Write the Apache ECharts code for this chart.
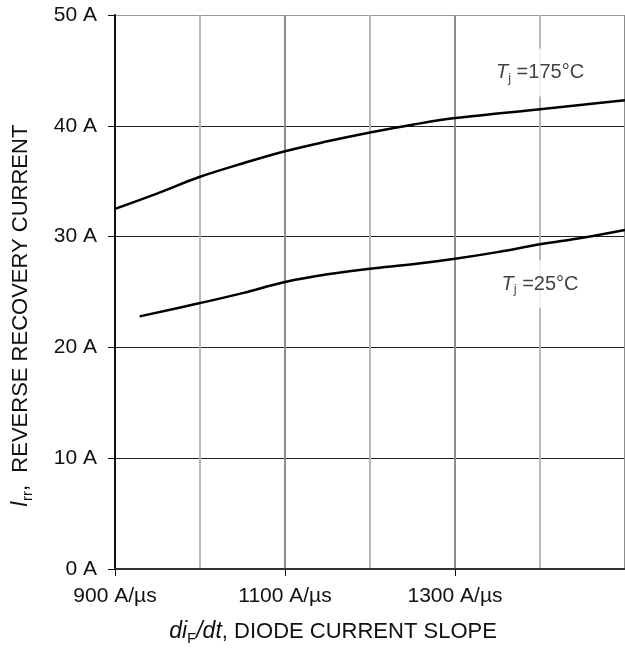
<!DOCTYPE html>
<html>
<head>
<meta charset="utf-8">
<script src="https://cdn.jsdelivr.net/npm/echarts@6/dist/echarts.min.js"></script>
<style>
html,body{margin:0;padding:0;background:#fff;}
#chart{width:625px;height:648px;}
</style>
</head>
<body>
<div id="chart"></div>
<script>
// Data
const hotX = [900, 950, 1000, 1050, 1100, 1150, 1200, 1250, 1300, 1350, 1400, 1450, 1500];
const hotY = [32.5, 33.9, 35.4, 36.6, 37.7, 38.6, 39.4, 40.1, 40.7, 41.1, 41.5, 41.9, 42.3];
const coldX = [929, 1000, 1050, 1100, 1150, 1200, 1250, 1300, 1350, 1400, 1450, 1500];
const coldY = [22.8, 24.0, 24.9, 25.9, 26.6, 27.1, 27.5, 28.0, 28.6, 29.3, 29.9, 30.6];
const xLabelValues = [900, 1100, 1300];
const hotLabel = {x: 1400, y: 44.8, text: '=175°C'};
const coldLabel = {x: 1400, y: 25.7, text: '=25°C'};

const FONT = '"Liberation Sans", Arial, Helvetica, sans-serif';
const pair = (xs, ys) => xs.map((x, i) => [x, ys[i]]);

const chart = echarts.init(document.getElementById('chart'), null, {renderer: 'canvas'});

const labelRich = {
  it: {fontFamily: FONT, fontSize: 20, fontStyle: 'italic', color: '#111', lineHeight: 24},
  sub: {fontFamily: FONT, fontSize: 13, color: '#111', lineHeight: 13, verticalAlign: 'bottom'},
  n: {fontFamily: FONT, fontSize: 20, color: '#111', lineHeight: 24}
};

function tempLabel(lbl) {
  return {
    type: 'scatter',
    xAxisIndex: 0,
    data: [[lbl.x, lbl.y]],
    symbolSize: 0,
    silent: true,
    z: 5,
    label: {
      show: true,
      position: 'inside',
      formatter: '{it|T}{sub|j}{n| ' + lbl.text + '}',
      rich: labelRich,
      backgroundColor: '#fff',
      padding: [12, 6, 12, 6]
    }
  };
}

const nameRich = {
  i: {fontFamily: FONT, fontSize: 23, fontStyle: 'italic', color: '#111', lineHeight: 28},
  sub: {fontFamily: FONT, fontSize: 15, color: '#111', lineHeight: 15, verticalAlign: 'bottom'},
  n: {fontFamily: FONT, fontSize: 22, color: '#111', lineHeight: 28}
};

chart.setOption({
  animation: false,
  backgroundColor: '#fff',
  grid: {left: 115, right: 0, top: 15, bottom: 79, containLabel: false, outerBoundsMode: 'none'},
  xAxis: [
    {
      type: 'value',
      position: 'bottom',
      min: 900, max: 1500, interval: 100,
      axisLine: {show: true, onZero: false, lineStyle: {color: '#333', width: 2}},
      axisTick: {show: false},
      axisLabel: {show: false},
      splitLine: {show: true, lineStyle: {color: ['#8c8c8c', '#b8b8b8'], width: 2}}
    },
    {
      type: 'value',
      position: 'bottom',
      offset: 0,
      min: 900, max: 1500, interval: 200,
      name: '{i|di}{sub|F}{i|/dt}{n|, DIODE CURRENT SLOPE}',
      nameLocation: 'middle',
      nameGap: 49,
      nameTextStyle: {padding: [0, 74, 0, 0], rich: nameRich},
      axisLine: {show: false, onZero: false},
      axisTick: {show: true, customValues: xLabelValues, length: 7, lineStyle: {color: '#111', width: 1}},
      axisLabel: {
        show: true,
        customValues: xLabelValues,
        formatter: v => v + ' A/µs',
        fontFamily: FONT, fontSize: 21, color: '#111', margin: 17
      },
      splitLine: {show: false}
    }
  ],
  yAxis: {
    type: 'value',
    min: 0, max: 50, interval: 10,
    name: '{i|I}{sub|rr}{n|,  REVERSE RECOVERY CURRENT}',
    nameLocation: 'middle',
    nameRotate: 90,
    nameGap: 80,
    nameTextStyle: {padding: [0, 48, 0, 0], rich: nameRich},
    axisLine: {show: true, lineStyle: {color: '#111', width: 2}},
    axisTick: {show: true, length: 7, lineStyle: {color: '#111', width: 1}},
    axisLabel: {
      formatter: v => v + ' A',
      fontFamily: FONT, fontSize: 21, color: '#111', margin: 18
    },
    splitLine: {show: true, lineStyle: {color: ['#222', '#222', '#222', '#222', '#222', '#999'], width: 1}}
  },
  series: [
    {
      type: 'line', name: 'Tj=175°C', data: pair(hotX, hotY), xAxisIndex: 0,
      smooth: 0.4, showSymbol: false, symbol: 'none',
      lineStyle: {color: '#000', width: 2.5}, z: 3
    },
    {
      type: 'line', name: 'Tj=25°C', data: pair(coldX, coldY), xAxisIndex: 0,
      smooth: 0.4, showSymbol: false, symbol: 'none',
      lineStyle: {color: '#000', width: 2.5}, z: 3
    },
    tempLabel(hotLabel),
    tempLabel(coldLabel)
  ]
});
</script>
</body>
</html>
